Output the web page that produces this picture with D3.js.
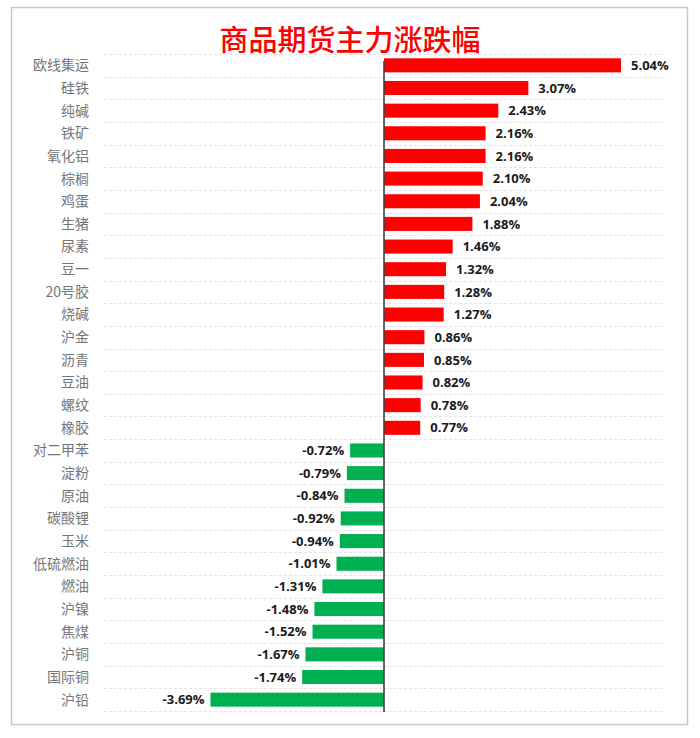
<!DOCTYPE html>
<html><head><meta charset="utf-8">
<script src="https://cdn.jsdelivr.net/npm/d3@7"></script>
<style>body{margin:0;background:#fff}svg{display:block}</style>
</head><body>
<script>
const categories = ["欧线集运","硅铁","纯碱","铁矿","氧化铝","棕榈","鸡蛋","生猪","尿素","豆一","20号胶","烧碱","沪金","沥青","豆油","螺纹","橡胶","对二甲苯","淀粉","原油","碳酸锂","玉米","低硫燃油","燃油","沪镍","焦煤","沪铜","国际铜","沪铅"];
const values = [5.04,3.07,2.43,2.16,2.16,2.10,2.04,1.88,1.46,1.32,1.28,1.27,0.86,0.85,0.82,0.78,0.77,-0.72,-0.79,-0.84,-0.92,-0.94,-1.01,-1.31,-1.48,-1.52,-1.67,-1.74,-3.69];
const title = "商品期货主力涨跌幅";

(function(){
const W = 700, H = 738;
const svg = d3.select("body").append("svg").attr("width", W).attr("height", H);

svg.append("rect").attr("x", 11.5).attr("y", 7.5).attr("width", 676).attr("height", 717)
  .attr("fill", "#fff").attr("stroke", "#c8c8c8").attr("stroke-width", 1.5);

const pTop = 54, pBottom = 711;
const y = d3.scaleBand().domain(categories).range([pTop, pBottom]).paddingInner(0.38).paddingOuter(0.19);
const x = d3.scaleLinear().domain([0, 5.04]).range([384, 621]);

const bounds = d3.range(categories.length + 1).map(i => pTop + i * (pBottom - pTop) / categories.length);
svg.append("g").selectAll("line").data(bounds).join("line")
  .attr("x1", 104).attr("x2", 664)
  .attr("y1", d => Math.round(d) + 0.5).attr("y2", d => Math.round(d) + 0.5)
  .attr("stroke", "#e4e4e4").attr("stroke-width", 1).attr("stroke-dasharray", "3,2");

svg.append("text").attr("x", 350).attr("y", 51).attr("text-anchor", "middle")
  .attr("font-family", "'Noto Sans CJK SC', sans-serif").attr("font-size", 29).attr("font-weight", 500)
  .attr("fill", "#ff0000").text(title);

const data = categories.map((c, i) => ({c, v: values[i]}));

svg.append("g").selectAll("rect").data(data).join("rect")
  .attr("x", d => x(Math.min(0, d.v)))
  .attr("width", d => Math.abs(x(d.v) - x(0)))
  .attr("y", d => y(d.c)).attr("height", y.bandwidth())
  .attr("fill", d => d.v >= 0 ? "#ff0000" : "#00b050");

svg.append("line").attr("x1", 384).attr("x2", 384).attr("y1", 61).attr("y2", pBottom + 1)
  .attr("stroke", "#404040").attr("stroke-width", 1.6);

const yAxis = d3.axisLeft(y).tickSize(0).tickPadding(0);
const ga = svg.append("g").attr("transform", "translate(89,0)").call(yAxis);
ga.select(".domain").remove();
ga.selectAll("text").attr("font-family", "'Noto Sans CJK SC', sans-serif").attr("font-size", 14)
  .attr("fill", "#767676").attr("dy", "0.35em");

svg.append("g").selectAll("text").data(data).join("text")
  .attr("x", d => d.v >= 0 ? x(d.v) + 10 : x(d.v) - 6)
  .attr("y", d => y(d.c) + y.bandwidth() / 2).attr("dy", "0.36em")
  .attr("text-anchor", d => d.v >= 0 ? "start" : "end")
  .attr("font-family", "'Open Sans', sans-serif").attr("font-weight", 700).attr("font-size", 13)
  .attr("fill", "#1a1a1a")
  .text(d => d.v.toFixed(2) + "%");
})();
</script>
</body></html>
